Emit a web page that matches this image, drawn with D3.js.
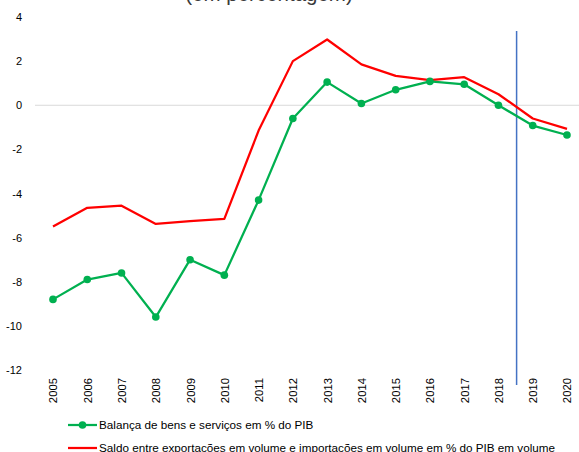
<!DOCTYPE html>
<html><head><meta charset="utf-8">
<script src="https://cdn.jsdelivr.net/npm/d3@7/dist/d3.min.js"></script>
<style>body{margin:0;background:#fff;}svg{display:block;}</style>
</head><body>
<svg id="c" width="579" height="452"></svg>
<script>
const years = ["2005","2006","2007","2008","2009","2010","2011","2012","2013","2014","2015","2016","2017","2018","2019","2020"];
const balanca = [-8.8,-7.9,-7.6,-9.6,-7.0,-7.7,-4.3,-0.6,1.05,0.08,0.7,1.08,0.95,0.0,-0.92,-1.35];
const saldoVolume = [-5.5,-4.65,-4.55,-5.38,-5.25,-5.15,-1.15,2.0,2.98,1.85,1.33,1.14,1.27,0.5,-0.6,-1.07];
const yTicks = [4,2,0,-2,-4,-6,-8,-10,-12];
const seriesNames = ["Balança de bens e serviços em % do PIB","Saldo entre exportações em volume e importações em volume em % do PIB em volume"];
const title = "(em percentagem)";

const svg = d3.select("#c");
const font = "'Liberation Sans', Arial, sans-serif";
const x = d3.scalePoint().domain(years).range([53, 567]);
const y = d3.scaleLinear().domain([-12, 4]).range([370, 17]);

svg.append("text").attr("x", 269).attr("y", 0.5).attr("text-anchor","middle")
  .attr("font-family", font).attr("font-size", 20.5).attr("fill","#3a3a3a").text(title);

// zero axis line
svg.append("line").attr("x1", 35).attr("x2", 579).attr("y1", y(0)).attr("y2", y(0))
  .attr("stroke", "#d9d9d9").attr("stroke-width", 1);

// y axis labels
const yAxis = d3.axisLeft(y).tickValues(yTicks).tickSize(0).tickPadding(0).tickFormat(d3.format("d"));
const ya = svg.append("g").attr("transform","translate(22,0)").call(yAxis);
ya.select(".domain").remove();
ya.selectAll("text").attr("font-family", font).attr("font-size", 11).attr("fill","#000")
  .text(d => d < 0 ? "-" + Math.abs(d) : d);

// x axis labels (rotated)
const xAxis = d3.axisBottom(x).tickSize(0).tickPadding(0);
const xa = svg.append("g").attr("transform","translate(0,376)").call(xAxis);
xa.select(".domain").remove();
xa.selectAll("text").attr("font-family", font).attr("font-size", 11.3).attr("fill","#000")
  .attr("transform","rotate(-90)").attr("text-anchor","end").attr("dy","0.35em").attr("x", -2).attr("y", 0);

// vertical marker line between 2018 and 2019
const vx = (x("2018") + x("2019")) / 2 + 1;
svg.append("line").attr("x1", vx).attr("x2", vx).attr("y1", 31).attr("y2", 385)
  .attr("stroke", "#4472C4").attr("stroke-width", 1.5);

const line = d3.line().x((d,i) => x(years[i])).y(d => y(d));
svg.append("path").datum(saldoVolume).attr("d", line).attr("fill","none")
  .attr("stroke","#FF0000").attr("stroke-width", 2.25).attr("stroke-linejoin","round");
svg.append("path").datum(balanca).attr("d", line).attr("fill","none")
  .attr("stroke","#00B050").attr("stroke-width", 2.25).attr("stroke-linejoin","round");
svg.selectAll("circle.m").data(balanca).enter().append("circle").attr("class","m")
  .attr("cx",(d,i)=>x(years[i])).attr("cy",d=>y(d)).attr("r",3.8).attr("fill","#00B050");

// legend
const lg = svg.append("g");
lg.append("line").attr("x1",68).attr("x2",97).attr("y1",425).attr("y2",425).attr("stroke","#00B050").attr("stroke-width",2.25);
lg.append("circle").attr("cx",82.5).attr("cy",425).attr("r",3.8).attr("fill","#00B050");
lg.append("text").attr("x",99).attr("y",425).attr("dy","0.35em").attr("font-family",font).attr("font-size",11.7).attr("fill","#000").text(seriesNames[0]);
lg.append("line").attr("x1",68).attr("x2",97).attr("y1",448).attr("y2",448).attr("stroke","#FF0000").attr("stroke-width",2.25);
lg.append("text").attr("x",99).attr("y",448).attr("dy","0.35em").attr("font-family",font).attr("font-size",11.7).attr("fill","#000").text(seriesNames[1]);
</script>
</body></html>
